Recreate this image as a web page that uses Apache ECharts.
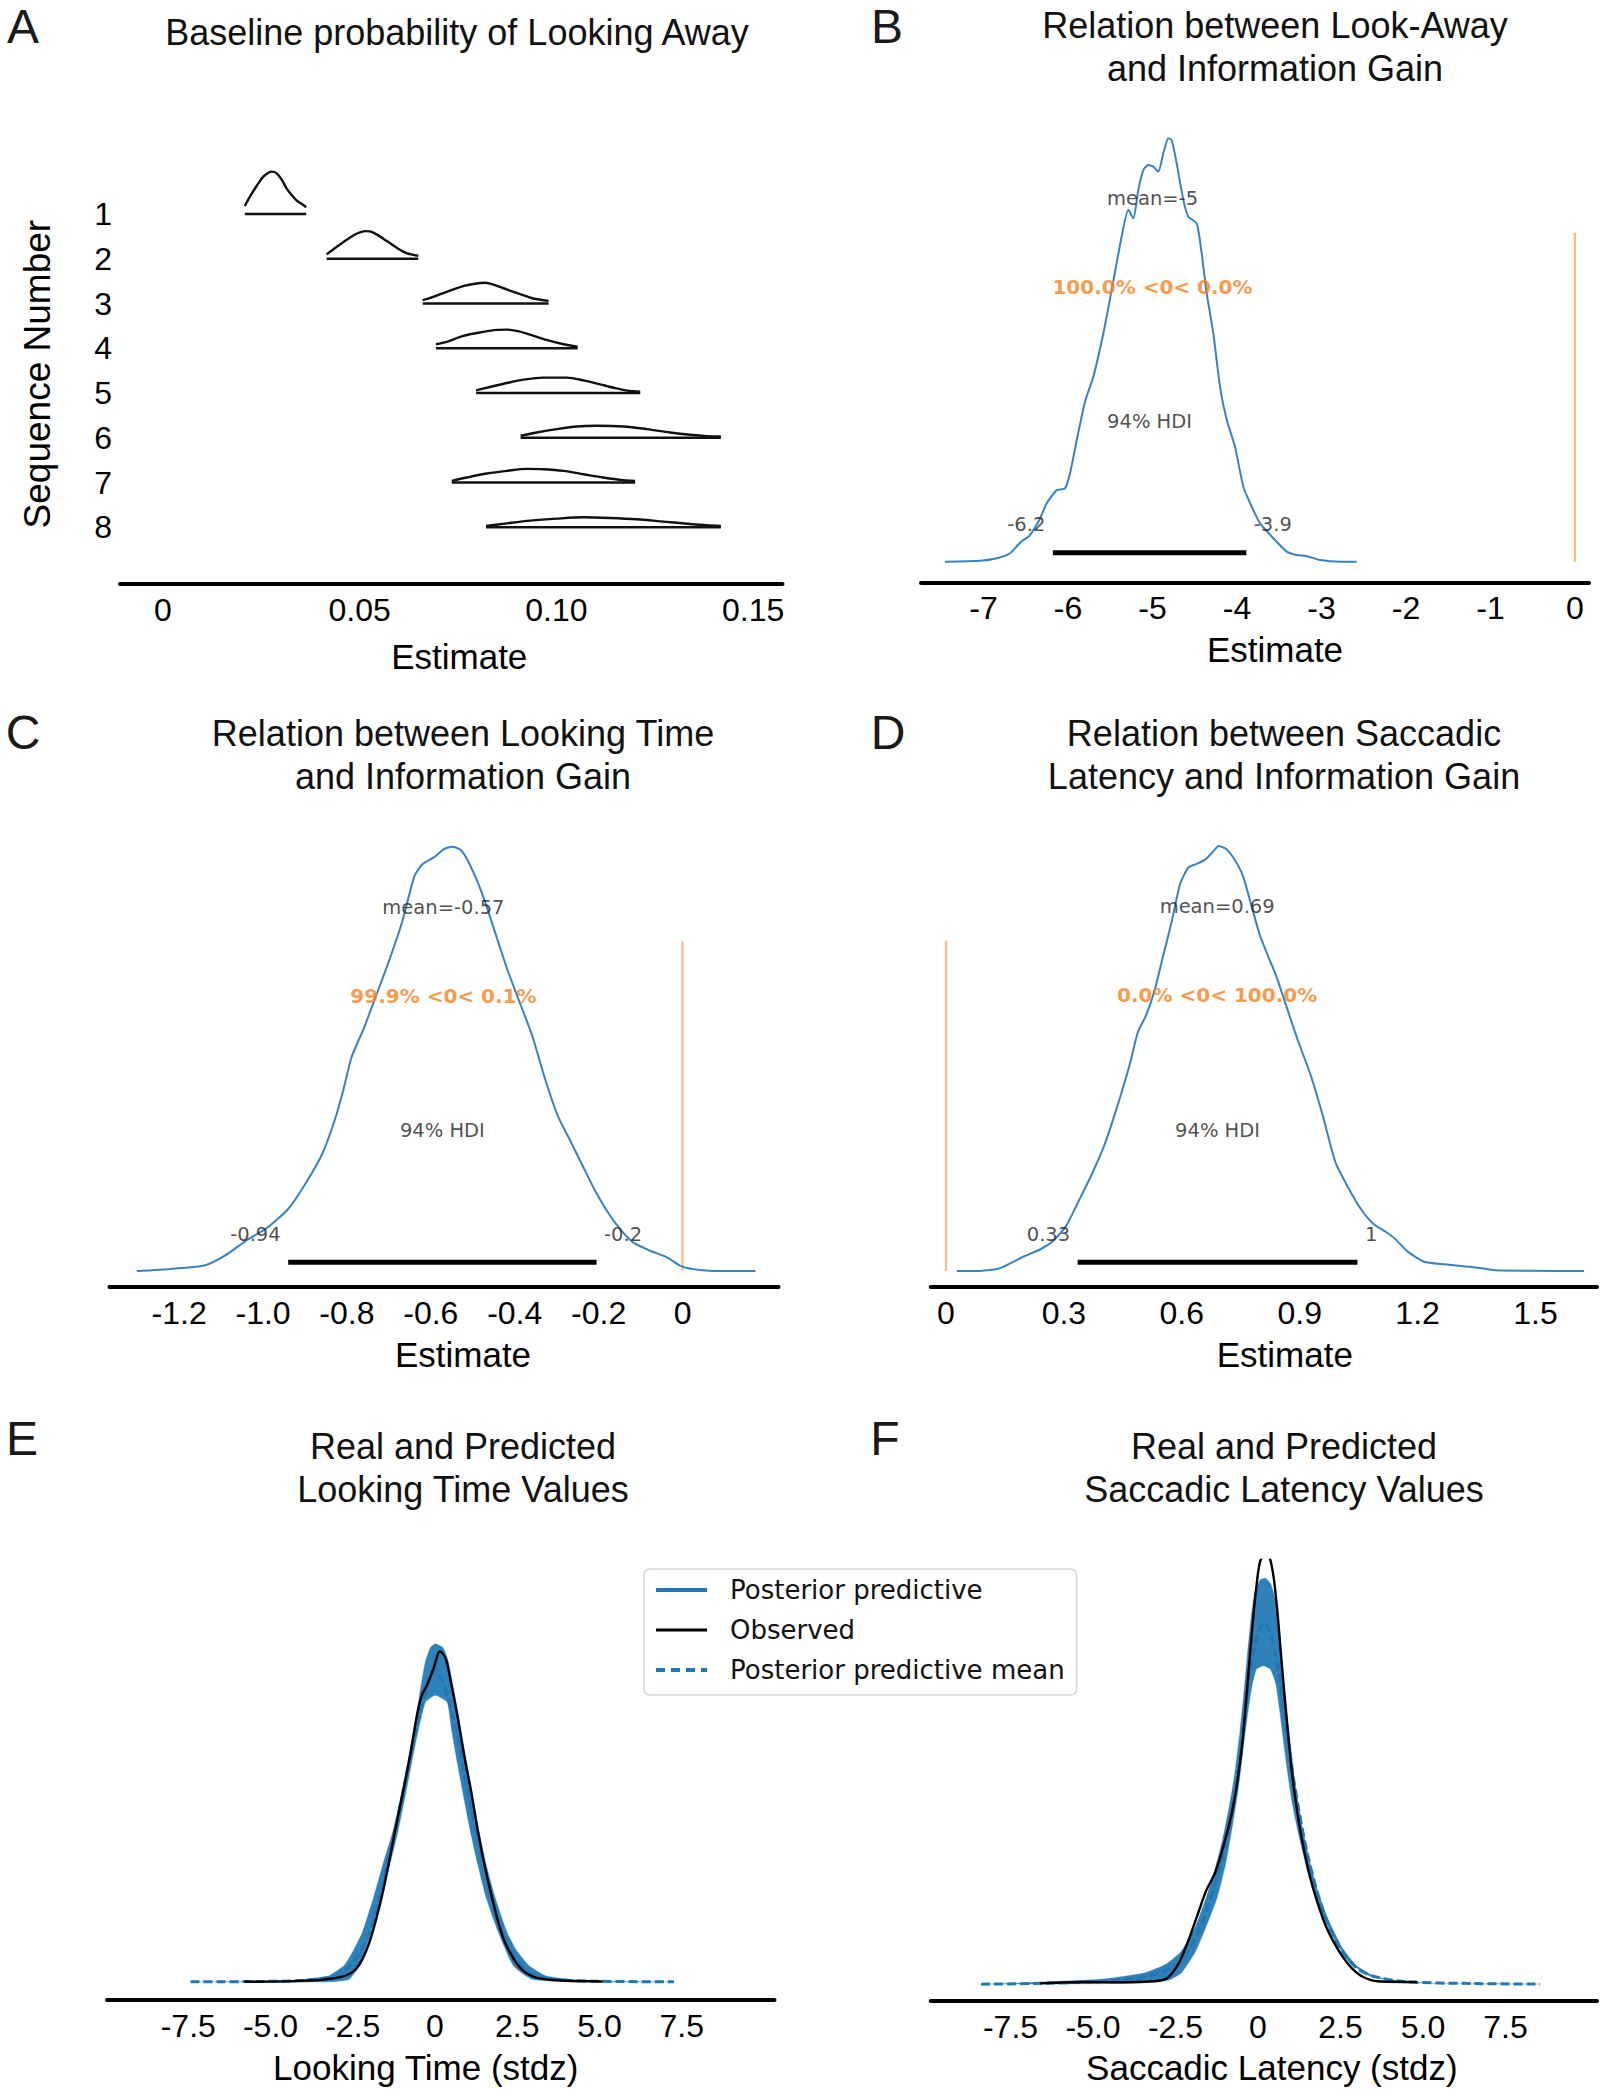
<!DOCTYPE html>
<html><head><meta charset="utf-8">
<script src="https://cdn.jsdelivr.net/npm/echarts@6/dist/echarts.min.js"></script>
<style>html,body{margin:0;padding:0;background:#fff}#c{width:1601px;height:2094px}</style>
</head><body><div id="c"></div>
<script>
// ================= DATA =================
// Panel A: baseline probability of looking away (ridge outlines: [estimate, relative height])
const seqLabels = ['1','2','3','4','5','6','7','8'];
const seq1 = [[0.0208,0.179],[0.0221,0.387],[0.0238,0.625],[0.0255,0.834],[0.0268,0.923],[0.0276,0.946],[0.0289,0.908],[0.0302,0.760],[0.0314,0.573],[0.0327,0.424],[0.0340,0.298],[0.0353,0.223],[0.0364,0.149]];
const seq2 = [[0.0416,0.097],[0.0441,0.261],[0.0467,0.424],[0.0492,0.558],[0.0514,0.618],[0.0526,0.611],[0.0543,0.544],[0.0569,0.395],[0.0594,0.246],[0.0619,0.127],[0.0649,0.067]];
const seq3 = [[0.0660,0.074],[0.0687,0.149],[0.0721,0.261],[0.0763,0.387],[0.0797,0.447],[0.0819,0.462],[0.0840,0.424],[0.0874,0.313],[0.0908,0.208],[0.0941,0.112],[0.0980,0.060]];
const seq4 = [[0.0694,0.089],[0.0721,0.141],[0.0763,0.276],[0.0814,0.365],[0.0848,0.410],[0.0874,0.417],[0.0899,0.387],[0.0933,0.305],[0.0975,0.186],[0.1018,0.089],[0.1054,0.037]];
const seq5 = [[0.0796,0.060],[0.0831,0.134],[0.0874,0.223],[0.0916,0.298],[0.0967,0.343],[0.1026,0.343],[0.1069,0.283],[0.1111,0.194],[0.1153,0.104],[0.1187,0.045],[0.1213,0.030]];
const seq6 = [[0.0909,0.045],[0.0950,0.119],[0.1001,0.194],[0.1052,0.253],[0.1102,0.268],[0.1170,0.253],[0.1230,0.194],[0.1289,0.119],[0.1340,0.067],[0.1382,0.037],[0.1418,0.030]];
const seq7 = [[0.0734,0.037],[0.0772,0.112],[0.0823,0.201],[0.0874,0.261],[0.0925,0.305],[0.0967,0.298],[0.1018,0.261],[0.1069,0.186],[0.1119,0.112],[0.1170,0.052],[0.1200,0.037]];
const seq8 = [[0.0821,0.030],[0.0874,0.089],[0.0933,0.149],[0.1001,0.194],[0.1069,0.223],[0.1136,0.208],[0.1204,0.179],[0.1272,0.127],[0.1340,0.074],[0.1382,0.045],[0.1418,0.030]];

// Panel B: posterior of Look-Away ~ Information Gain ([estimate, relative density])
const curveB = [[-7.456,0],[-7.041,0.002],[-6.844,0.008],[-6.686,0.020],[-6.568,0.045],[-6.450,0.063],[-6.331,0.102],[-6.252,0.138],[-6.134,0.169],[-6.036,0.173],[-5.976,0.209],[-5.897,0.287],[-5.799,0.378],[-5.700,0.437],[-5.582,0.539],[-5.483,0.642],[-5.365,0.768],[-5.286,0.831],[-5.227,0.811],[-5.168,0.878],[-5.109,0.925],[-5.050,0.937],[-4.990,0.933],[-4.931,0.921],[-4.872,0.965],[-4.813,1.0],[-4.773,0.996],[-4.714,0.941],[-4.635,0.854],[-4.576,0.815],[-4.477,0.799],[-4.418,0.728],[-4.359,0.634],[-4.280,0.539],[-4.201,0.413],[-4.122,0.335],[-4.024,0.272],[-3.925,0.177],[-3.826,0.130],[-3.728,0.091],[-3.531,0.047],[-3.412,0.024],[-3.294,0.016],[-3.175,0.013],[-3.018,0.004],[-2.781,0],[-2.584,0]];
const hdiB = [-6.18, -3.89];
const hdiTextB = ['-6.2', '-3.9'];
const meanB = -5.0, meanTextB = 'mean=-5', refTextB = '100.0% <0< 0.0%';

// Panel C: Looking Time ~ Information Gain
const curveC = [[-1.301,0],[-1.2205,0.005],[-1.140,0.013],[-1.090,0.037],[-1.040,0.072],[-0.990,0.102],[-0.9395,0.147],[-0.899,0.206],[-0.859,0.276],[-0.829,0.356],[-0.809,0.425],[-0.789,0.504],[-0.759,0.574],[-0.729,0.653],[-0.699,0.733],[-0.669,0.821],[-0.639,0.931],[-0.619,0.960],[-0.593,0.975],[-0.568,0.995],[-0.548,1.0],[-0.528,0.992],[-0.508,0.960],[-0.478,0.891],[-0.448,0.802],[-0.418,0.712],[-0.388,0.633],[-0.358,0.554],[-0.328,0.454],[-0.297,0.365],[-0.267,0.306],[-0.237,0.246],[-0.207,0.187],[-0.177,0.137],[-0.147,0.097],[-0.117,0.067],[-0.077,0.048],[-0.036,0.032],[-0.006,0.013],[0.024,0.005],[0.084,0],[0.174,0]];
const hdiC = [-0.94, -0.205];
const hdiTextC = ['-0.94', '-0.2'];
const meanC = -0.57, meanTextC = 'mean=-0.57', refTextC = '99.9% <0< 0.1%';

// Panel D: Saccadic Latency ~ Information Gain
const curveD = [[0.0275,0],[0.0919,0.001],[0.1346,0.006],[0.1669,0.020],[0.1990,0.035],[0.2418,0.052],[0.2738,0.072],[0.3061,0.107],[0.3382,0.166],[0.3702,0.226],[0.4025,0.295],[0.4346,0.384],[0.4667,0.483],[0.4881,0.562],[0.5094,0.602],[0.5310,0.661],[0.5524,0.741],[0.5738,0.820],[0.5952,0.909],[0.6165,0.949],[0.6379,0.958],[0.6595,0.968],[0.6809,0.988],[0.6936,1.0],[0.7130,0.993],[0.7343,0.968],[0.7557,0.929],[0.7774,0.859],[0.7987,0.790],[0.8201,0.740],[0.8415,0.691],[0.8629,0.632],[0.8952,0.543],[0.9272,0.463],[0.9593,0.364],[0.9913,0.255],[1.0237,0.196],[1.0557,0.146],[1.0878,0.111],[1.1198,0.092],[1.1415,0.077],[1.1735,0.047],[1.2163,0.022],[1.2700,0.016],[1.3341,0.010],[1.3985,0.002],[1.4842,0.001],[1.6234,0]];
const hdiD = [0.335, 1.047];
const hdiTextD = ['0.33', '1'];
const meanD = 0.69, meanTextD = 'mean=0.69', refTextD = '0.0% <0< 100.0%';

// Panel E: Looking time (stdz) densities
const obsE = [[-5.79,0],[-4.25,0.0009],[-3.43,0.0026],[-2.91,0.0056],[-2.61,0.0099],[-2.40,0.0163],[-2.20,0.0292],[-1.99,0.0507],[-1.78,0.0807],[-1.58,0.1151],[-1.37,0.1581],[-1.17,0.2010],[-0.96,0.2440],[-0.76,0.2869],[-0.55,0.3384],[-0.40,0.3642],[-0.24,0.3771],[-0.04,0.3986],[0.15,0.4200],[0.32,0.4115],[0.48,0.3814],[0.68,0.3384],[0.89,0.2869],[1.09,0.2440],[1.30,0.1924],[1.50,0.1495],[1.71,0.1108],[1.92,0.0765],[2.12,0.0507],[2.33,0.0335],[2.53,0.0206],[2.74,0.0120],[3.05,0.0056],[3.46,0.0026],[3.97,0.0013],[5.10,0.0004]];
const ppUpperE = [[-7.43,0],[-5.28,0.0009],[-4.04,0.0026],[-3.22,0.0077],[-2.76,0.0206],[-2.45,0.0421],[-2.20,0.0636],[-1.87,0.1065],[-1.58,0.1495],[-1.27,0.1924],[-1.04,0.2354],[-0.83,0.2783],[-0.63,0.3213],[-0.47,0.3642],[-0.29,0.4072],[-0.14,0.4243],[0.01,0.4295],[0.25,0.4243],[0.40,0.4072],[0.60,0.3642],[0.78,0.3213],[0.96,0.2783],[1.14,0.2354],[1.33,0.1924],[1.55,0.1495],[1.83,0.1065],[2.18,0.0636],[2.44,0.0421],[2.85,0.0206],[3.35,0.0077],[4.50,0.0013],[7.26,0]];
const ppLowerE = [[-7.43,0],[-3.22,0],[-2.61,0.0034],[-2.30,0.0206],[-1.94,0.0636],[-1.63,0.1065],[-1.37,0.1495],[-1.12,0.1924],[-0.91,0.2354],[-0.71,0.2783],[-0.50,0.3213],[-0.29,0.3556],[0.01,0.3642],[0.37,0.3556],[0.50,0.3213],[0.68,0.2783],[0.87,0.2354],[1.07,0.1924],[1.30,0.1495],[1.56,0.1065],[1.92,0.0636],[2.38,0.0206],[2.94,0.0034],[4.48,0],[7.26,0]];
const ppMeanE = [[-7.43,0],[-5.3,0.0005],[-4.0,0.002],[-3.0,0.008],[-2.5,0.024],[-2.0,0.06],[-1.5,0.14],[-1.0,0.235],[-0.5,0.335],[0,0.397],[0.5,0.345],[1.0,0.24],[1.5,0.145],[2.0,0.065],[2.5,0.026],[3.0,0.008],[4.0,0.002],[5.3,0.0005],[7.26,0]];

// Panel F: Saccadic latency (stdz) densities
const obsF = [[-6.60,0.0009],[-5.24,0.0027],[-4.16,0.0023],[-3.19,0.0036],[-2.81,0.0064],[-2.59,0.0145],[-2.38,0.0281],[-2.11,0.0553],[-1.84,0.0871],[-1.57,0.1188],[-1.30,0.1415],[-1.03,0.1778],[-0.81,0.2141],[-0.65,0.2504],[-0.48,0.3048],[-0.38,0.3502],[-0.27,0.4046],[-0.16,0.4590],[-0.05,0.5044],[0.06,0.5362],[0.22,0.5475],[0.36,0.5407],[0.47,0.5180],[0.58,0.4771],[0.68,0.4273],[0.79,0.3729],[0.90,0.3230],[1.03,0.2685],[1.19,0.2186],[1.36,0.1778],[1.57,0.1370],[1.79,0.1052],[2.06,0.0735],[2.33,0.0508],[2.60,0.0327],[2.87,0.0191],[3.19,0.0091],[3.63,0.0036],[4.82,0.0027]];
const ppUpperF = [[-8.39,0],[-6.87,0.0018],[-4.70,0.0064],[-3.41,0.0145],[-2.76,0.0259],[-2.32,0.0417],[-1.89,0.0735],[-1.57,0.1098],[-1.30,0.1461],[-1.08,0.1823],[-0.86,0.2277],[-0.70,0.2685],[-0.54,0.3230],[-0.43,0.3683],[-0.32,0.4182],[-0.21,0.4636],[-0.11,0.4953],[0.06,0.5135],[0.22,0.5157],[0.38,0.5089],[0.54,0.4863],[0.65,0.4409],[0.76,0.3955],[0.87,0.3502],[0.98,0.3048],[1.14,0.2504],[1.36,0.1960],[1.57,0.1551],[1.84,0.1143],[2.17,0.0780],[2.55,0.0463],[2.98,0.0236],[3.52,0.0100],[4.49,0.0027],[6.12,0.0009],[8.55,0]];
const ppLowerF = [[-8.39,0],[-4.16,0.0009],[-2.76,0.0045],[-2.32,0.0145],[-1.89,0.0417],[-1.57,0.0735],[-1.24,0.1098],[-0.97,0.1551],[-0.76,0.2050],[-0.59,0.2504],[-0.43,0.3048],[-0.32,0.3411],[-0.21,0.3729],[-0.05,0.4001],[0.17,0.4046],[0.38,0.4001],[0.54,0.3819],[0.65,0.3502],[0.76,0.3139],[0.87,0.2776],[1.03,0.2322],[1.25,0.1869],[1.52,0.1415],[1.84,0.1007],[2.28,0.0599],[2.76,0.0281],[3.41,0.0100],[4.49,0.0018],[8.55,0]];
const ppMeanF = [[-8.39,0],[-6.5,0.001],[-4.5,0.004],[-3.5,0.009],[-2.8,0.017],[-2.3,0.03],[-1.9,0.058],[-1.5,0.1],[-1.0,0.175],[-0.6,0.265],[-0.3,0.38],[0,0.445],[0.2,0.46],[0.5,0.425],[0.8,0.345],[1.1,0.255],[1.5,0.165],[2.0,0.09],[2.5,0.045],[3.0,0.02],[3.5,0.01],[4.5,0.003],[6.5,0.0008],[8.55,0]];

// Tick values and labels
const ticksA = [0, 0.05, 0.10, 0.15];           const tickTextA = ['0','0.05','0.10','0.15'];
const ticksB = [-7,-6,-5,-4,-3,-2,-1,0];         const tickTextB = ['-7','-6','-5','-4','-3','-2','-1','0'];
const ticksC = [-1.2,-1.0,-0.8,-0.6,-0.4,-0.2,0]; const tickTextC = ['-1.2','-1.0','-0.8','-0.6','-0.4','-0.2','0'];
const ticksD = [0,0.3,0.6,0.9,1.2,1.5];           const tickTextD = ['0','0.3','0.6','0.9','1.2','1.5'];
const ticksEF = [-7.5,-5,-2.5,0,2.5,5,7.5];       const tickTextEF = ['-7.5','-5.0','-2.5','0','2.5','5.0','7.5'];

const axisNames = ['Estimate','Estimate','Estimate','Estimate','Looking Time (stdz)','Saccadic Latency (stdz)'];
const legendNames = ['Posterior predictive','Observed','Posterior predictive mean'];

// ================= LAYOUT / STYLE =================
const FONT = '"Liberation Sans", Arial, sans-serif';
const MPL = '"DejaVu Sans", sans-serif';
const BLUE = '#1f77b4';
const CURVE_BLUE = '#3683c3';
const ORANGE = '#f8801a';
const ORANGE_LINE = 'rgba(255,127,14,0.55)';

const grids = [
  {left:120,   top:146.8, width:662.5, height:436.7},
  {left:921,   top:130,   width:668,   height:453},
  {left:109.5, top:830,   width:669,   height:456.5},
  {left:930.7, top:830,   width:666.3, height:456.5},
  {left:107,   top:1560,  width:667.5, height:440},
  {left:930.7, top:1560,  width:666.3, height:440.5}
];
const xRanges = [[-0.01093,0.15747],[-7.740,0.166],[-1.366,0.2288],[-0.0389,1.6565],[-9.970,10.319],[-9.918,10.273]];
const yRanges = [[-1.2556,8.501],[-0.0503,1.0196],[-0.0363,1.0396],[-0.0362,1.0376],[-0.0231,0.5360],[-0.0208,0.5389]];
const tickVals = [ticksA, ticksB, ticksC, ticksD, ticksEF, ticksEF];
const tickTexts = [tickTextA, tickTextB, tickTextC, tickTextD, tickTextEF, tickTextEF];
const nameGaps = [55.5, 49, 50.5, 50.5, 50, 49.5];
const namePads = [[0,0,0,16],[0,0,0,40],[0,0,0,38],[0,0,0,42],[0,30,0,0],[0,0,0,16]];
const labelMargins = [10, 9, 10, 10, 10, 10];

const Y_MEAN = 0.858, Y_REF = 0.649, Y_HDITXT = 0.331, Y_HDILAB = 0.087, Y_HDI = 0.021, Y_REFTOP = 0.777;

function nearestFmt(vals, texts) {
  return function (v) {
    let b = 0;
    for (let i = 0; i < vals.length; i++) if (Math.abs(vals[i] - v) < Math.abs(vals[b] - v)) b = i;
    return texts[b];
  };
}

const xAxis = grids.map((g, i) => ({
  type: 'value', gridIndex: i, min: xRanges[i][0], max: xRanges[i][1],
  axisLine: {show: true, onZero: false, lineStyle: {color: '#000', width: 4}},
  axisTick: {show: false}, splitLine: {show: false},
  axisLabel: {customValues: tickVals[i], formatter: nearestFmt(tickVals[i], tickTexts[i]),
    fontSize: 32, fontFamily: FONT, color: '#000', margin: labelMargins[i]},
  name: axisNames[i], nameLocation: 'middle', nameGap: nameGaps[i],
  nameTextStyle: {fontSize: 35, fontFamily: FONT, color: '#000', padding: namePads[i]}
}));

const yAxis = grids.map((g, i) => {
  if (i === 0) {
    return {
      type: 'value', gridIndex: 0, min: yRanges[0][0], max: yRanges[0][1],
      axisLine: {show: false}, axisTick: {show: false}, splitLine: {show: false},
      axisLabel: {customValues: [0,1,2,3,4,5,6,7], formatter: v => seqLabels[7 - Math.round(v)],
        fontSize: 32, fontFamily: FONT, color: '#000', margin: 8},
      name: 'Sequence Number', nameLocation: 'middle', nameRotate: 90, nameGap: 64.5,
      nameTextStyle: {fontSize: 37, fontFamily: FONT, color: '#000', padding: [0,18,0,0]}
    };
  }
  return {type: 'value', gridIndex: i, min: yRanges[i][0], max: yRanges[i][1], show: false,
    splitLine: {show: false}};
});

const series = [];

// ---- Panel A ridges ----
[seq1, seq2, seq3, seq4, seq5, seq6, seq7, seq8].forEach((seq, k) => {
  const base = 7 - k;
  series.push({type: 'line', xAxisIndex: 0, yAxisIndex: 0, symbol: 'none', smooth: 0.3, silent: true,
    data: seq.map(p => [p[0], base + p[1]]), lineStyle: {color: '#111', width: 2.4}});
  series.push({type: 'line', xAxisIndex: 0, yAxisIndex: 0, symbol: 'none', silent: true,
    data: [[seq[0][0], base], [seq[seq.length - 1][0], base]], lineStyle: {color: '#111', width: 2.6}});
});

// ---- Panels B-D ----
function posterior(idx, curve, hdi, hdiText, mean, meanText, refText) {
  const base = {type: 'scatter', xAxisIndex: idx, yAxisIndex: idx, symbolSize: 1, silent: true, z: 6,
    itemStyle: {color: 'rgba(0,0,0,0)'}};
  const lab = (pos, extra) => Object.assign({show: true, position: pos, distance: 7,
    formatter: p => p.data[2], fontFamily: MPL, fontSize: 19.5, color: '#222'}, extra || {});
  return [
    {type: 'line', xAxisIndex: idx, yAxisIndex: idx, symbol: 'none', smooth: 0.2, silent: true, z: 3,
      data: curve, lineStyle: {color: CURVE_BLUE, width: 2}},
    {type: 'line', xAxisIndex: idx, yAxisIndex: idx, symbol: 'none', silent: true, z: 4,
      data: [[hdi[0], Y_HDI], [hdi[1], Y_HDI]], lineStyle: {color: '#000', width: 5, cap: 'butt'}},
    {type: 'line', xAxisIndex: idx, yAxisIndex: idx, symbol: 'none', silent: true, z: 2,
      data: [[0, 0], [0, Y_REFTOP]], lineStyle: {color: ORANGE_LINE, width: 2.2}},
    Object.assign({}, base, {data: [[mean, Y_MEAN, meanText], [(hdi[0] + hdi[1]) / 2, Y_HDITXT, '94% HDI']], label: lab('inside')}),
    Object.assign({}, base, {data: [[mean, Y_REF, refText]], label: lab('inside', {fontWeight: 'bold', color: ORANGE, fontSize: 20})}),
    Object.assign({}, base, {data: [[hdi[0], Y_HDILAB, hdiText[0]]], label: lab('left')}),
    Object.assign({}, base, {data: [[hdi[1], Y_HDILAB, hdiText[1]]], label: lab('right')})
  ];
}
series.push(...posterior(1, curveB, hdiB, hdiTextB, meanB, meanTextB, refTextB));
series.push(...posterior(2, curveC, hdiC, hdiTextC, meanC, meanTextC, refTextC));
series.push(...posterior(3, curveD, hdiD, hdiTextD, meanD, meanTextD, refTextD));

// ---- Panels E-F ----
function band(idx, upper, lower) {
  const poly = upper.concat(lower.slice().reverse());
  return {type: 'custom', name: legendNames[0], xAxisIndex: idx, yAxisIndex: idx, z: 2, clip: true, silent: true,
    data: poly,
    renderItem: function (params, api) {
      if (params.dataIndex !== 0) return null;
      const pts = poly.map(p => api.coord(p));
      return {type: 'polygon', shape: {points: pts, smooth: 0.15},
        style: {fill: BLUE, opacity: 0.93, stroke: 'rgba(31,119,180,0.35)', lineWidth: 1.2}};
    }};
}
function ppc(idx, upper, lower, mean, obs) {
  return [
    {type: 'line', name: legendNames[0], xAxisIndex: idx, yAxisIndex: idx, data: [], symbol: 'none',
      lineStyle: {color: BLUE, width: 3.5}},
    band(idx, upper, lower),
    {type: 'line', name: legendNames[2], xAxisIndex: idx, yAxisIndex: idx, symbol: 'none', smooth: 0.3, silent: true, z: 3,
      data: mean, lineStyle: {color: BLUE, width: 3, type: [9, 4]}},
    {type: 'line', name: legendNames[1], xAxisIndex: idx, yAxisIndex: idx, symbol: 'none', smooth: 0.3, silent: true, z: 4,
      data: obs, lineStyle: {color: '#000', width: 2.4}}
  ];
}
series.push(...ppc(4, ppUpperE, ppLowerE, ppMeanE, obsE));
series.push(...ppc(5, ppUpperF, ppLowerF, ppMeanF, obsF));

// ---- Titles & panel letters ----
const panelTitles = [
  ['Baseline probability of Looking Away', 457, 32],
  ['Relation between Look-Away\nand Information Gain', 1275, 47],
  ['Relation between Looking Time\nand Information Gain', 463, 754.5],
  ['Relation between Saccadic\nLatency and Information Gain', 1284, 754.5],
  ['Real and Predicted\nLooking Time Values', 463, 1467.5],
  ['Real and Predicted\nSaccadic Latency Values', 1284, 1467.5]
];
const panelLetters = [['A', 23, 2], ['B', 887, 2], ['C', 23, 708], ['D', 888, 708], ['E', 22, 1414], ['F', 885, 1414]];
const graphic = [];
panelTitles.forEach(t => graphic.push({type: 'text', x: t[1], y: t[2], silent: true,
  style: {text: t[0], fill: '#111', fontSize: 36, fontFamily: FONT, align: 'center', verticalAlign: 'middle', lineHeight: 43}}));
panelLetters.forEach(t => graphic.push({type: 'text', x: t[1], y: t[2], silent: true,
  style: {text: t[0], fill: '#1a1a1a', fontSize: 48, lineHeight: 48, fontFamily: FONT, align: 'center', verticalAlign: 'top'}}));

const chart = echarts.init(document.getElementById('c'), null, {renderer: 'svg', width: 1601, height: 2094});
chart.setOption({
  animation: false,
  backgroundColor: '#fff',
  grid: grids.map(g => Object.assign({containLabel: false}, g)),
  xAxis, yAxis, series, graphic,
  legend: {
    data: [
      {name: legendNames[0], lineStyle: {width: 4}},
      {name: legendNames[1], lineStyle: {width: 3}},
      {name: legendNames[2], lineStyle: {width: 4, type: [9, 6]}}
    ],
    orient: 'vertical', left: 644, top: 1569, selectedMode: false,
    itemWidth: 51, itemHeight: 14, itemGap: 14, padding: [8, 12, 12, 10],
    itemStyle: {opacity: 0, borderWidth: 0},
    textStyle: {fontSize: 26, fontFamily: MPL, color: '#111', padding: [0, 0, 0, 18]},
    borderColor: '#d6d6d6', borderWidth: 1.5, borderRadius: 6, backgroundColor: 'rgba(255,255,255,0.85)'
  }
});
</script>
</body></html>
